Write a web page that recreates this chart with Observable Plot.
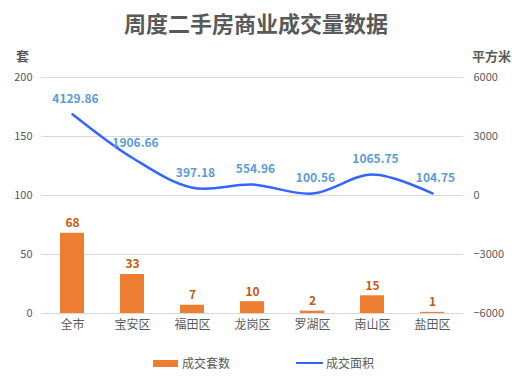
<!DOCTYPE html>
<html><head><meta charset="utf-8">
<script src="https://cdn.jsdelivr.net/npm/d3@7"></script>
<script src="https://cdn.jsdelivr.net/npm/@observablehq/plot@0.6"></script>
<style>
body{margin:0;background:#fff;font-family:"Noto Sans CJK SC",sans-serif;}
#wrap{width:512px;height:379px;position:relative;overflow:hidden;background:#fff;}
#title{height:44px;line-height:44px;text-align:center;font-size:22px;font-weight:bold;color:#595959;}
.lg{position:absolute;font-size:12px;color:#595959;line-height:14px;}
.sw{position:absolute;}
</style>
</head><body>
<div id="wrap">
<div id="title">周度二手房商业成交量数据</div>
<div id="chart"></div>
<span class="sw" style="left:153px;top:360px;width:25px;height:7px;background:#ED7D31"></span>
<span class="lg" style="left:182px;top:356px">成交套数</span>
<span class="sw" style="left:296px;top:362px;width:27px;height:2px;background:#3366FF"></span>
<span class="lg" style="left:326px;top:356px">成交面积</span>
</div>
<script>
const districts = ["全市","宝安区","福田区","龙岗区","罗湖区","南山区","盐田区"];
const units = [68,33,7,10,2,15,1];
const areas = [4129.86,1906.66,397.18,554.96,100.56,1065.75,104.75];
const leftTicks = [0,50,100,150,200];
const rightTicks = [-6000,-3000,0,3000,6000];
const toLeft = a => a/60 + 100;
const fmtSigned = v => (v<0?"−":"") + Math.abs(Math.round(v));
const data = districts.map((d,i)=>({d, u:units[i], a:areas[i]}));

const chart = Plot.plot({
  width:512, height:300,
  marginLeft:41, marginRight:49, marginTop:33, marginBottom:31,
  style:{fontFamily:'"Noto Sans CJK SC", sans-serif', fontSize:"11px", color:"#595959", background:"white"},
  x:{domain:districts, paddingInner:0.6, paddingOuter:0.3, label:null},
  y:{domain:[0,200], label:null},
  marks:[
    Plot.ruleY(leftTicks,{stroke:"#d9d9d9", strokeWidth:1}),
    Plot.axisY({ticks:leftTicks, tickSize:0, tickPadding:9, label:null, tickFormat:d=>String(d)}),
    Plot.axisY(rightTicks.map(toLeft), {anchor:"right", tickSize:0, tickPadding:10, label:null, tickFormat:v=>fmtSigned((v-100)*60)}),
    Plot.barY(data,{x:"d", y:"u", fill:"#ED7D31"}),
    Plot.text(data,{x:"d", y:"u", text:d=>String(d.u), dy:-10, fill:"#C55A11", fontWeight:"bold", fontSize:12}),
    Plot.line(data,{x:"d", y:d=>toLeft(d.a), stroke:"#3366FF", strokeWidth:2.5, curve:"catmull-rom"}),
    Plot.text(data,{x:"d", y:d=>toLeft(d.a), text:d=>d.a.toFixed(2), dy:-15, dx:3, fill:"#5B9BD5", fontWeight:"bold", fontSize:12}),
    Plot.axisX({tickSize:0, tickPadding:7, fontSize:12, label:null}),
    Plot.text(["套"],{frameAnchor:"top-left", textAnchor:"middle", lineAnchor:"middle", text:d=>d, dx:-19, dy:-21, fontSize:13, fontWeight:"bold", fill:"#595959"}),
    Plot.text(["平方米"],{frameAnchor:"top-right", textAnchor:"middle", lineAnchor:"middle", text:d=>d, dx:28, dy:-21, fontSize:13, fontWeight:"bold", fill:"#595959"})
  ]
});
document.getElementById("chart").appendChild(chart);
</script>
</body></html>
